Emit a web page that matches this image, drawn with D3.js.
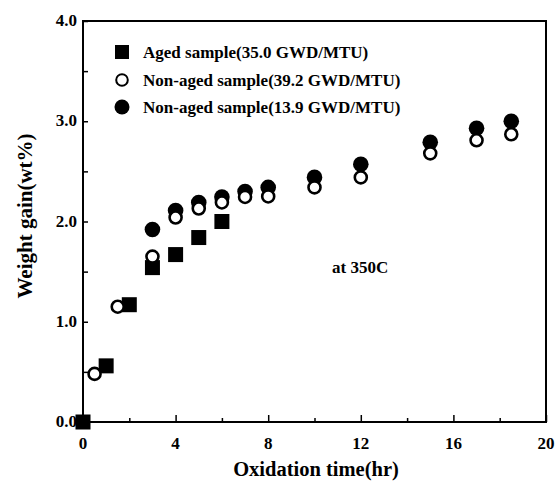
<!DOCTYPE html>
<html>
<head>
<meta charset="utf-8">
<style>
    body { margin: 0; background: white; }
    svg { display: block; }
    text { font-family: "Liberation Serif", "Times New Roman", serif; font-weight: bold; fill: black; }
</style>
<script src="https://d3js.org/d3.v7.min.js"></script>
</head>
<body>
<script>
// values
const agedTime = [0, 1, 2, 3, 4, 5, 6];
const agedGain = [0.0, 0.56, 1.17, 1.54, 1.67, 1.84, 2.0];

const open39Time = [0.5, 1.5, 3, 4, 5, 6, 7, 8, 10, 12, 15, 17, 18.5];
const open39Gain = [0.48, 1.15, 1.65, 2.04, 2.13, 2.19, 2.245, 2.25, 2.34, 2.44, 2.68, 2.81, 2.87];

const filled13Time = [3, 4, 5, 6, 7, 8, 10, 12, 15, 17, 18.5];
const filled13Gain = [1.92, 2.11, 2.19, 2.245, 2.30, 2.34, 2.44, 2.57, 2.79, 2.93, 3.0];

const legendLabels = [
    "Aged sample(35.0 GWD/MTU)",
    "Non-aged sample(39.2 GWD/MTU)",
    "Non-aged sample(13.9 GWD/MTU)"
];
const xTickLabels = [0, 4, 8, 12, 16, 20];
const yTickLabels = [0, 1, 2, 3, 4];

const width = 557, height = 486;
const margin = {left: 83, right: 11, top: 21, bottom: 64};

const svg = d3.select("body").append("svg")
    .attr("width", width)
    .attr("height", height);

const x = d3.scaleLinear().domain([0, 20]).range([margin.left, width - margin.right]);
const y = d3.scaleLinear().domain([0, 4]).range([height - margin.bottom, margin.top]);

// frame
svg.append("rect")
    .attr("x", x(0)).attr("y", y(4))
    .attr("width", x(20) - x(0)).attr("height", y(0) - y(4))
    .attr("fill", "none").attr("stroke", "black").attr("stroke-width", 2);

// inward ticks
svg.append("g")
    .attr("transform", `translate(0,${y(0)})`)
    .call(d3.axisBottom(x).tickValues(d3.range(0, 21, 2)).tickSize(-6).tickFormat(""))
    .call(g => g.select(".domain").remove())
    .call(g => g.selectAll("line").attr("stroke-width", 1.5)
        .attr("y2", d => d % 4 === 0 ? -7 : -4));

svg.append("g")
    .attr("transform", `translate(${x(0)},0)`)
    .call(d3.axisLeft(y).tickValues(d3.range(0, 4.01, 0.5)).tickSize(-5).tickFormat(""))
    .call(g => g.select(".domain").remove())
    .call(g => g.selectAll("line").attr("stroke-width", 1.5));

// tick labels
svg.append("g").selectAll("text")
    .data(xTickLabels).join("text")
    .attr("x", d => x(d)).attr("y", y(0) + 27)
    .attr("text-anchor", "middle")
    .style("font-size", "17px")
    .text(d => d);

svg.append("g").selectAll("text")
    .data(yTickLabels).join("text")
    .attr("x", x(0) - 6).attr("y", d => y(d) + 5)
    .attr("text-anchor", "end")
    .style("font-size", "17px")
    .text(d => d.toFixed(1));

// axis titles
svg.append("text")
    .attr("x", 316).attr("y", 476)
    .attr("text-anchor", "middle")
    .style("font-size", "20.5px")
    .text("Oxidation time(hr)");

svg.append("text")
    .attr("transform", "translate(32,216) rotate(-90)")
    .attr("text-anchor", "middle")
    .style("font-size", "21px")
    .text("Weight gain(wt%)");

svg.append("text")
    .attr("x", 332).attr("y", 273)
    .style("font-size", "17px")
    .text("at 350C");

// data marks
const sq = 15, r = 7.2;

svg.append("g").selectAll("rect")
    .data(agedTime.map((t, i) => [t, agedGain[i]])).join("rect")
    .attr("x", d => x(d[0]) - sq / 2).attr("y", d => y(d[1]) - sq / 2)
    .attr("width", sq).attr("height", sq)
    .attr("fill", "black");

svg.append("g").selectAll("circle")
    .data(filled13Time.map((t, i) => [t, filled13Gain[i]])).join("circle")
    .attr("cx", d => x(d[0])).attr("cy", d => y(d[1]))
    .attr("r", r + 0.6)
    .attr("fill", "black");

svg.append("g").selectAll("circle")
    .data(open39Time.map((t, i) => [t, open39Gain[i]])).join("circle")
    .attr("cx", d => x(d[0])).attr("cy", d => y(d[1]))
    .attr("r", r - 1.2)
    .attr("fill", "white").attr("stroke", "black").attr("stroke-width", 2.6);

// legend
const legend = svg.append("g");
const ly = [52, 80, 107];
legend.append("rect")
    .attr("x", 115).attr("y", ly[0] - 7).attr("width", 14).attr("height", 14)
    .attr("fill", "black");
legend.append("circle")
    .attr("cx", 122).attr("cy", ly[1]).attr("r", 5.8)
    .attr("fill", "white").attr("stroke", "black").attr("stroke-width", 2);
legend.append("circle")
    .attr("cx", 122).attr("cy", ly[2]).attr("r", 7.5)
    .attr("fill", "black");
legend.selectAll("text")
    .data(legendLabels).join("text")
    .attr("x", 143).attr("y", (d, i) => ly[i] + 6)
    .style("font-size", "17px")
    .text(d => d);
</script>
</body>
</html>
